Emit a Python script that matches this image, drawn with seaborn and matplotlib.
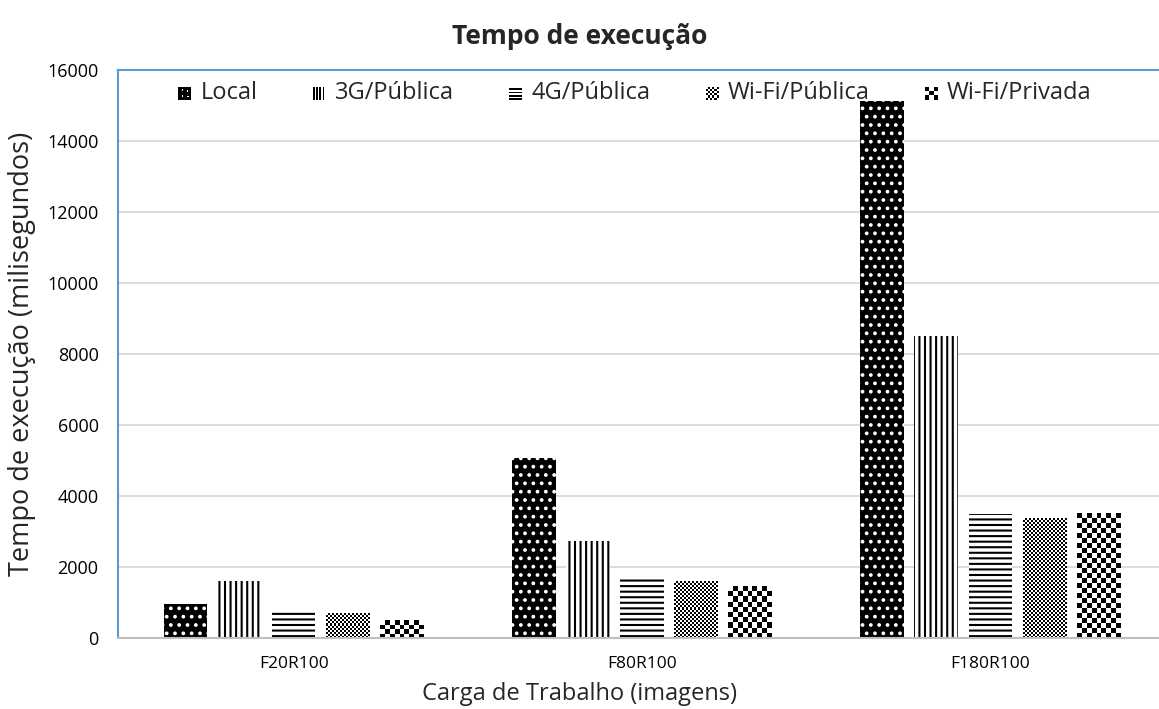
import numpy as np
import pandas as pd
import matplotlib
matplotlib.use("Agg")
import matplotlib.pyplot as plt
from matplotlib.patches import Rectangle
import seaborn as sns

# Execution time (ms) per workload and network configuration
cargas = ["F20R100", "F80R100", "F180R100"]
redes = ["Local", "3G/Pública", "4G/Pública", "Wi-Fi/Pública", "Wi-Fi/Privada"]
local = [960, 5070, 15130]
g3_publica = [1600, 2740, 8510]
g4_publica = [720, 1660, 3490]
wifi_publica = [700, 1580, 3360]
wifi_privada = [500, 1440, 3520]
y_ticks = [0, 2000, 4000, 6000, 8000, 10000, 12000, 14000, 16000]

series = [local, g3_publica, g4_publica, wifi_publica, wifi_privada]
df = pd.DataFrame({
    "Carga": [c for _ in redes for c in cargas],
    "Rede": [r for r in redes for _ in cargas],
    "Tempo": [v for s in series for v in s],
})

sns.set_theme(style="white")
plt.rcParams["font.family"] = ["Open Sans", "DejaVu Sans"]
plt.rcParams["hatch.linewidth"] = 1.5

W, H = 1159, 709
fig = plt.figure(figsize=(W / 100, H / 100), dpi=100)
ax = fig.add_axes([118 / W, 71 / H, 1 - 118 / W, (638 - 70) / H])

sns.barplot(data=df, x="Carga", y="Tempo", hue="Rede", order=cargas,
            hue_order=redes, palette=["black"] + ["white"] * 4,
            width=0.776, gap=0.2, ax=ax, legend=False, saturation=1)

ax.set_xlim(-0.505, 2.485)
ax.set_ylim(0, 16000)
ax.set_yticks(y_ticks)
ax.set_yticklabels([str(t) for t in y_ticks])

# Fill patterns: dotted black, vertical stripes, horizontal stripes
styles = {
    0: dict(face="black", edge="white", hatch=".."),
    1: dict(face="white", edge="black", hatch="|||"),
    2: dict(face="white", edge="black", hatch="---"),
}
for i, cont in enumerate(ax.containers):
    for bar in cont:
        bar.set_linewidth(0)
        if i in styles:
            bar.set_facecolor(styles[i]["face"])
            bar.set_edgecolor(styles[i]["edge"])
            bar.set_hatch(styles[i]["hatch"])
        else:
            bar.set_facecolor("white")
            bar.set_edgecolor("white")

# Checkerboard textures for the two Wi-Fi series
fig.canvas.draw()
to_px = ax.transData
checker_cell = {3: 2.0, 4: 5.0}
for i, cell in checker_cell.items():
    for bar in ax.containers[i]:
        x0, y0 = bar.get_x(), bar.get_y()
        x1, y1 = x0 + bar.get_width(), y0 + bar.get_height()
        (px0, py0), (px1, py1) = to_px.transform([(x0, y0), (x1, y1)])
        nc = max(1, int(round((px1 - px0) / cell)))
        nr = max(1, int(round((py1 - py0) / cell)))
        board = (np.add.outer(np.arange(nr), np.arange(nc)) % 2).astype(float)
        ax.imshow(board, cmap="gray", vmin=0, vmax=1, extent=(x0, x1, y0, y1),
                  origin="lower", aspect="auto", interpolation="nearest",
                  zorder=bar.get_zorder() + 0.1)
ax.set_xlim(-0.505, 2.485)
ax.set_ylim(0, 16000)

# Axes styling
ax.set_axisbelow(True)
ax.yaxis.grid(True, color="#d9d9d9", linewidth=1.3)
ax.xaxis.grid(False)
for side in ["left", "top"]:
    ax.spines[side].set_color("#5b9bd5")
    ax.spines[side].set_linewidth(1.5)
ax.spines["bottom"].set_color("#bfbfbf")
ax.spines["bottom"].set_linewidth(1.5)
ax.spines["right"].set_visible(False)
ax.tick_params(axis="both", length=0)
ax.tick_params(axis="y", labelsize=13, colors="#000000", pad=14)
ax.tick_params(axis="x", labelsize=12.5, colors="#000000", pad=13)

ax.set_ylabel("Tempo de execução (milisegundos)", fontsize=19.5, labelpad=8)
ax.set_xlabel("Carga de Trabalho (imagens)", fontsize=17)
cx = (W / 2 - 118) / (W - 118)
ax.xaxis.set_label_coords(cx, -0.077)
ax.set_title("Tempo de execução", fontsize=19, fontweight="bold", x=cx, pad=19)


# Legend markers
class PatternHandler:
    def __init__(self, kind):
        self.kind = kind

    def legend_artist(self, legend, orig_handle, fontsize, handlebox):
        x0, y0 = handlebox.xdescent, handlebox.ydescent
        s = min(handlebox.width, handlebox.height)
        tr = handlebox.get_transform()
        arts = []
        if self.kind == "dots":
            arts.append(Rectangle((x0, y0), s, s, facecolor="black", lw=0))
            for (a, b) in [(0.3, 0.3), (0.7, 0.7), (0.3, 0.75), (0.75, 0.25)]:
                arts.append(Rectangle((x0 + a * s - 0.6, y0 + b * s - 0.6), 1.2, 1.2,
                                      facecolor="white", lw=0))
        elif self.kind == "vert":
            for k in range(4):
                arts.append(Rectangle((x0 + k * s / 4, y0), s / 8, s,
                                      facecolor="black", lw=0))
        elif self.kind == "horiz":
            for k in range(4):
                arts.append(Rectangle((x0, y0 + k * s / 4), s, s / 8,
                                      facecolor="black", lw=0))
        else:
            n = 6 if self.kind == "fine" else 3
            arts.append(Rectangle((x0, y0), s, s, facecolor="white", lw=0))
            c = s / n
            for r in range(n):
                for q in range(n):
                    if (r + q) % 2 == 0:
                        arts.append(Rectangle((x0 + q * c, y0 + r * c), c, c,
                                              facecolor="black", lw=0))
        for a in arts:
            a.set_transform(tr)
            handlebox.add_artist(a)
        return arts[0]


kinds = ["dots", "vert", "horiz", "fine", "coarse"]
proxies = [Rectangle((0, 0), 1, 1, label=r) for r in redes]
ax.legend(proxies, redes, loc="upper left", bbox_to_anchor=(0.049, 0.998),
          ncol=5, frameon=False, fontsize=17, handlelength=0.55, handleheight=0.55,
          handletextpad=0.38, columnspacing=2.35, borderaxespad=0.0,
          handler_map={p: PatternHandler(k) for p, k in zip(proxies, kinds)})

fig.savefig("out.png", dpi=100)
